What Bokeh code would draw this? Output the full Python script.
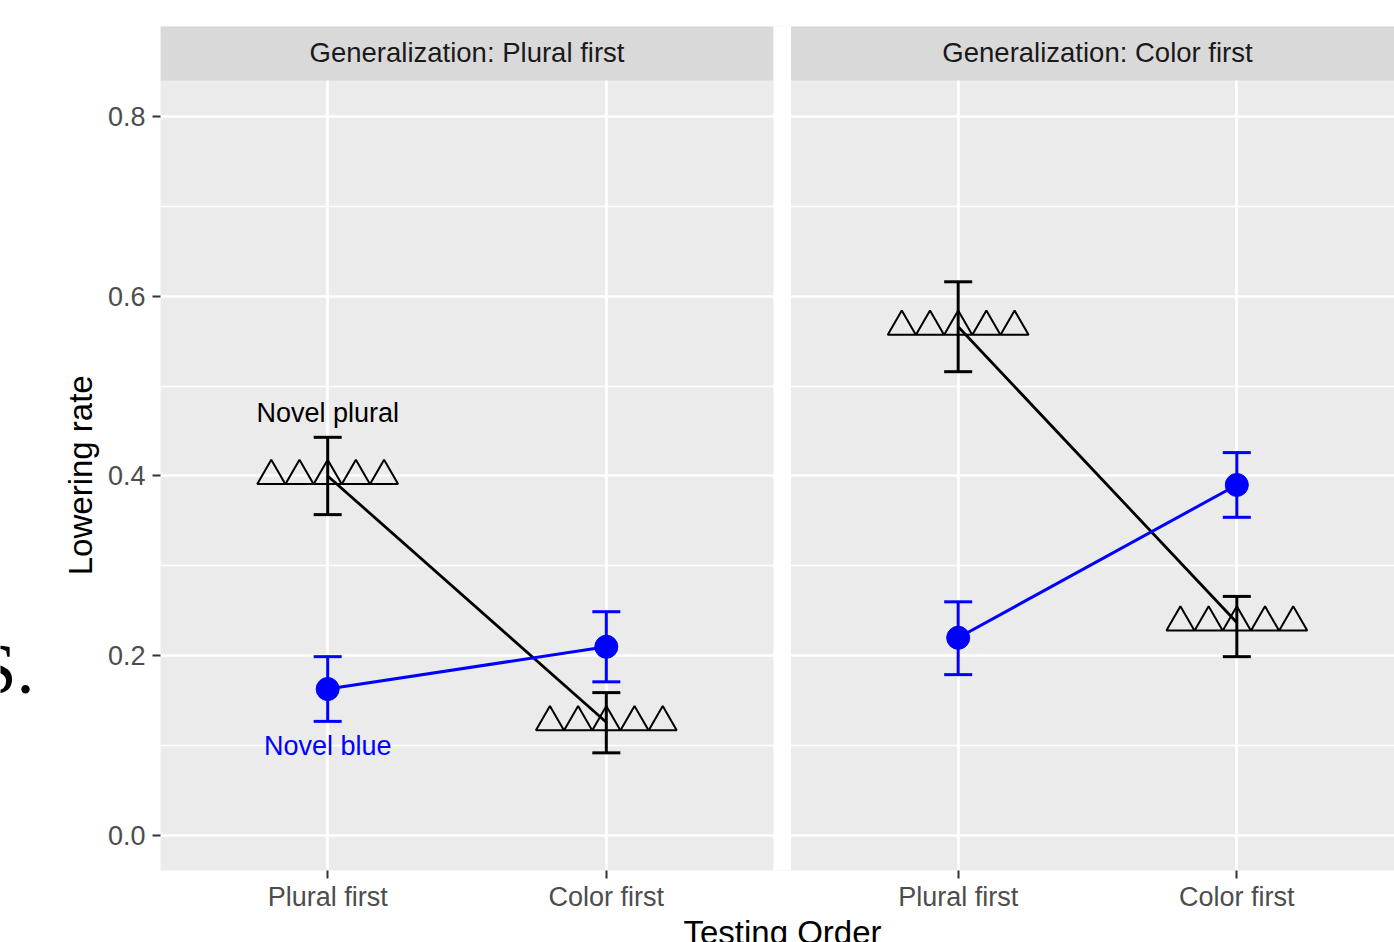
import math
from bokeh.plotting import figure
from bokeh.layouts import row, column
from bokeh.models import Range1d, FixedTicker, Label, ColumnDataSource, PrintfTickFormatter
from bokeh.transform import dodge
from bokeh.embed import file_html
from bokeh.resources import INLINE

# ---------------- data ----------------
categories = ["Plural first", "Color first"]
panels = ["Generalization: Plural first", "Generalization: Color first"]

# Novel plural (black, triangles)
plural_mean = [[0.400, 0.126], [0.566, 0.237]]
plural_lo = [[0.357, 0.092], [0.516, 0.199]]
plural_hi = [[0.443, 0.159], [0.616, 0.266]]

# Novel blue (blue, circles)
blue_mean = [[0.163, 0.210], [0.220, 0.390]]
blue_lo = [[0.127, 0.171], [0.179, 0.354]]
blue_hi = [[0.199, 0.249], [0.260, 0.426]]

y_ticks = [0.0, 0.2, 0.4, 0.6, 0.8]
y_minor = [0.1, 0.3, 0.5, 0.7]
label_plural = "Novel plural"
label_blue = "Novel blue"
x_title = "Testing Order"
y_title = "Lowering rate"
corner_text = "S."

# ---------------- layout ----------------
UNIT = 613 / 2.2          # px per category unit
EXPAND = 0.6
GAP = 17.5 / UNIT
PANEL_SPAN = 2 * EXPAND + (len(categories) - 1) + GAP
FONT = "Liberation Sans"
BLUE = "#0000FF"
W, H = 1394, 942
SIDE_W = 100
BOTTOM_H = 28
MAIN_H = H - BOTTOM_H

x_start = 1 - EXPAND
x_end = x_start + 1234 / UNIT
p = figure(width=W - SIDE_W, height=MAIN_H,
           x_range=Range1d(x_start, x_end), y_range=Range1d(-35 / 900, 0.9),
           output_backend="svg", toolbar_location=None,
           min_border_left=160 - SIDE_W, min_border_right=0, min_border_top=26,
           min_border_bottom=MAIN_H - 871,
           background_fill_color="#EBEBEB", border_fill_color="white", outline_line_color=None)

# ticks
x_ticks, x_over = [], {}
for k in range(len(panels)):
    for i, c in enumerate(categories):
        xv = k * PANEL_SPAN + i + 1
        x_ticks.append(xv)
        x_over[xv] = c

xt = FixedTicker(ticks=x_ticks, minor_ticks=[])
yt = FixedTicker(ticks=y_ticks, minor_ticks=y_minor)
p.xaxis.ticker = xt
p.xgrid.ticker = xt
p.yaxis.ticker = yt
p.ygrid.ticker = yt
p.xaxis.major_label_overrides = x_over
p.yaxis.formatter = PrintfTickFormatter(format="%.1f")

for ax in (p.xaxis, p.yaxis):
    ax.axis_line_color = None
    ax.minor_tick_line_color = None
    ax.major_tick_in = 0
    ax.major_tick_out = 8
    ax.major_tick_line_width = 2
    ax.major_tick_line_color = "#333333"
    ax.major_label_text_font = FONT
    ax.major_label_text_font_size = "27px"
    ax.major_label_text_color = "#4D4D4D"
p.xaxis.major_label_standoff = 3
p.yaxis.major_label_standoff = 7

p.xgrid.grid_line_color = "white"
p.xgrid.grid_line_width = 2.7
p.ygrid.grid_line_color = "white"
p.ygrid.grid_line_width = 2.7
p.ygrid.minor_grid_line_color = "white"
p.ygrid.minor_grid_line_width = 1.35

# strips and panel gap
for k, name in enumerate(panels):
    offs = k * PANEL_SPAN
    p.quad(left=[offs + x_start], right=[offs + x_start + 2 * EXPAND + 1], bottom=[0.84], top=[1.0],
           fill_color="#D9D9D9", line_color=None)
    p.add_layout(Label(x=offs + 1.5, y=0.871, text=name, text_align="center",
                       text_baseline="middle", text_font=FONT, text_font_size="27.5px",
                       text_color="#1A1A1A"))
p.quad(left=[x_start + 2 * EXPAND + 1], right=[x_start + 2 * EXPAND + 1 + GAP], bottom=[-1], top=[2],
       fill_color="white", line_color=None)

TRI_STEP = 28.2 / UNIT
CAP = 14 / UNIT

for k in range(len(panels)):
    xs = [k * PANEL_SPAN + i + 1 for i in range(len(categories))]
    src_p = ColumnDataSource(dict(x=xs, y=plural_mean[k], lo=plural_lo[k], hi=plural_hi[k]))
    src_b = ColumnDataSource(dict(x=xs, y=blue_mean[k], lo=blue_lo[k], hi=blue_hi[k]))

    # triangles (novel plural)
    for j in (-2, -1, 0, 1, 2):
        p.scatter(x=dodge("x", j * TRI_STEP), y="y", source=src_p, marker="triangle", size=28,
                  fill_color=None, line_color="black", line_width=2)
    p.line(x="x", y="y", source=src_p, line_color="black", line_width=2.8)
    p.segment(x0="x", y0="lo", x1="x", y1="hi", source=src_p, line_color="black", line_width=3)
    p.segment(x0=dodge("x", -CAP), y0="hi", x1=dodge("x", CAP), y1="hi", source=src_p,
              line_color="black", line_width=3)
    p.segment(x0=dodge("x", -CAP), y0="lo", x1=dodge("x", CAP), y1="lo", source=src_p,
              line_color="black", line_width=3)

    # novel blue
    p.line(x="x", y="y", source=src_b, line_color=BLUE, line_width=3)
    p.segment(x0="x", y0="lo", x1="x", y1="hi", source=src_b, line_color=BLUE, line_width=3)
    p.segment(x0=dodge("x", -CAP), y0="hi", x1=dodge("x", CAP), y1="hi", source=src_b,
              line_color=BLUE, line_width=3)
    p.segment(x0=dodge("x", -CAP), y0="lo", x1=dodge("x", CAP), y1="lo", source=src_b,
              line_color=BLUE, line_width=3)
    p.scatter(x="x", y="y", source=src_b, marker="circle", size=23, fill_color=BLUE, line_color=BLUE)

# in-panel annotations
p.add_layout(Label(x=1, y=0.47, text=label_plural, text_align="center", text_baseline="middle",
                   text_font=FONT, text_font_size="27px", text_color="black"))
p.add_layout(Label(x=1, y=0.1, text=label_blue, text_align="center", text_baseline="middle",
                   text_font=FONT, text_font_size="27px", text_color=BLUE))

# left strip: y-axis title and the cropped corner letter
side = figure(width=SIDE_W, height=MAIN_H, x_range=Range1d(0, SIDE_W),
              y_range=Range1d(MAIN_H, 0), output_backend="svg", toolbar_location=None,
              x_axis_type=None, y_axis_type=None, min_border=0, outline_line_color=None,
              background_fill_color="white", border_fill_color="white")
side.grid.visible = False
side.add_layout(Label(x=80, y=486, text=y_title, angle=math.pi / 2, text_align="center",
                      text_baseline="middle", text_font=FONT, text_font_size="33px",
                      text_color="black"))
side.add_layout(Label(x=34, y=696, text=corner_text, text_align="right", text_baseline="middle",
                      text_font="Liberation Serif", text_font_size="72px", text_color="black"))

# bottom strip holding the x-axis title (cropped by the window)
bottom = figure(width=W, height=BOTTOM_H, x_range=Range1d(0, W),
                y_range=Range1d(H, MAIN_H), output_backend="svg", toolbar_location=None,
                x_axis_type=None, y_axis_type=None, min_border=0, outline_line_color=None,
                background_fill_color="white", border_fill_color="white")
bottom.grid.visible = False
bottom.add_layout(Label(x=782, y=932, text=x_title, text_align="center", text_baseline="middle",
                        text_font=FONT, text_font_size="33px", text_color="black"))

layout = column(row(side, p, spacing=0), bottom, spacing=0)
open("out.html", "w").write(file_html(layout, INLINE))
